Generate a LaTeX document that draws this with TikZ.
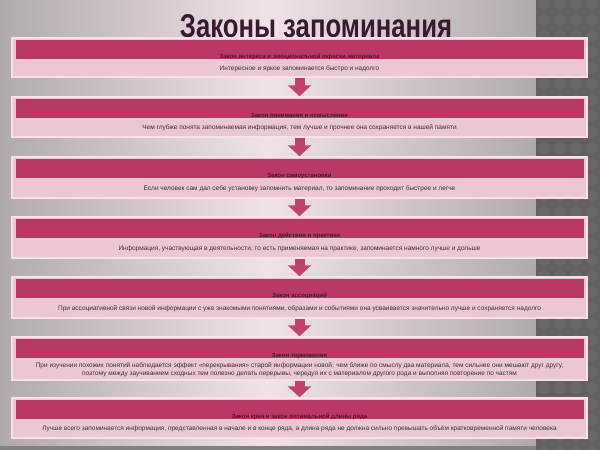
\documentclass[tikz,border=0pt]{standalone}
\usepackage{fontspec}
\setmainfont{Liberation Sans}
\usetikzlibrary{calc,arrows.meta}
\definecolor{bgside}{RGB}{176,170,173}
\definecolor{bgmid}{RGB}{240,226,232}
\definecolor{stripgray}{RGB}{98,94,97}
\definecolor{stripdot}{RGB}{107,102,105}
\definecolor{boxedge}{RGB}{250,224,234}
\definecolor{boxfill}{RGB}{233,199,212}
\definecolor{bandpink}{RGB}{186,56,103}
\definecolor{arrowpink}{RGB}{190,66,108}
\definecolor{titlecol}{RGB}{58,24,48}
\definecolor{headtext}{RGB}{72,22,46}
\definecolor{bodytext}{RGB}{58,46,52}

\begin{document}
\begin{tikzpicture}[x=1pt,y=-1pt]
\tikzstyle{rowbox}=[draw=boxedge, line width=1.5pt, fill=boxfill, minimum width=575, inner sep=0pt]
\tikzstyle{band}=[fill=bandpink, minimum width=568, minimum height=19, inner sep=0pt]
\tikzstyle{head}=[font=\bfseries\fontsize{6}{7}\selectfont, text=headtext, inner sep=0pt]
\tikzstyle{body}=[font=\fontsize{6.5}{8}\selectfont, text=bodytext, align=center, inner sep=0pt]
\tikzstyle{down}=[draw=arrowpink, line width=10pt, -{Triangle[width=23pt,length=11pt]}]

% background and the dark strip on the right
\useasboundingbox (0,0) rectangle (600,450);
\shade[left color=bgside, right color=bgside, middle color=bgmid] (0,0) rectangle (536,450);
\fill[bgside!75!black] (0,446) rectangle (536,450);
\fill[stripgray] (536,0) rectangle (600,450);
\begin{scope}
\clip (536,0) rectangle (600,450);
\foreach \cx in {544,560,...,600} {
\foreach \cy in {4,20,...,452} {
\fill[stripdot] (\cx,\cy) circle (6);
}
}
\end{scope}

\node[font=\bfseries\fontsize{33}{33}\selectfont, text=titlecol, anchor=base] (title) at (316,37) {\scalebox{0.78}[1]{Законы запоминания}};

% the seven laws
\foreach \i/\t/\b/\h/\s in {
1/38/77/{Закон интереса и эмоциональной окраски материала}/{Интересное и яркое запоминается быстро и надолго},
2/97/137/{Закон понимания и осмысления}/{Чем глубже понята запоминаемая информация, тем лучше и прочнее она сохраняется в нашей памяти},
3/157/198/{Закон самоустановки}/{Если человек сам дал себе установку запомнить материал, то запоминание проходит быстрее и легче},
4/217/258/{Закон действия и практики}/{Информация, участвующая в деятельности, то есть применяемая на практике, запоминается намного лучше и дольше},
5/277/318/{Закон ассоциаций}/{При ассоциативной связи новой информации с уже знакомыми понятиями, образами и событиями она усваивается значительно лучше и сохраняется надолго},
6/337/380/{Закон торможения}/{При изучении похожих понятий наблюдается эффект «перекрывания» старой информации новой: чем ближе по смыслу два материала, тем сильнее они мешают друг другу,\\ поэтому между заучиванием сходных тем полезно делать перерывы, чередуя их с материалом другого рода и выполняя повторение по частям},
7/398/438/{Закон края и закон оптимальной длины ряда}/{Лучше всего запоминается информация, представленная в начале и в конце ряда, а длина ряда не должна сильно превышать объём кратковременной памяти человека}} {
\node[rowbox, minimum height=\b-\t] (row\i) at (299.5,{(\t+\b)/2}) {};
\node[band, anchor=north] (band\i) at ($(row\i.north)+(0,2.5)$) {};
\node[head] (head\i) at ($(band\i.south)+(0,-2.5)$) {\h};
\node[body] (text\i) at ($(band\i.south)!0.5!(row\i.south)$) {\s};
}

\foreach \a/\b in {1/2,2/3,3/4,4/5,5/6,6/7} {
\draw[down] (row\a.south) -- (row\b.north);
}

\end{tikzpicture}
\end{document}
